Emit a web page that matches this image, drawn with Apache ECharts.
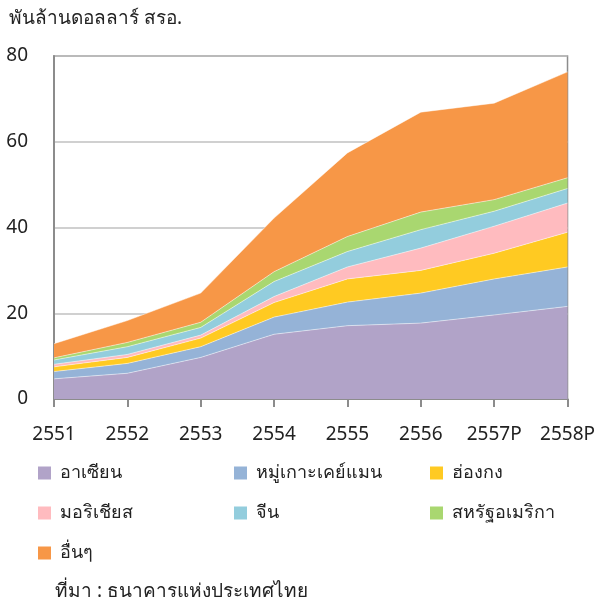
<!DOCTYPE html>
<html><head><meta charset="utf-8">
<script src="https://cdn.jsdelivr.net/npm/echarts@6/dist/echarts.min.js"></script>
<style>html,body{margin:0;padding:0;background:#fff}#c{width:598px;height:604px}</style>
</head><body><div id="c"></div>
<script>
const categories = ['2551','2552','2553','2554','2555','2556','2557P','2558P'];
const yTicks = [0,20,40,60,80];
const asean     = [4.7, 6.0, 9.7, 15.1, 17.1, 17.7, 19.6, 21.6];
const cayman    = [1.7, 2.3, 2.5, 4.0, 5.5, 7.0, 8.4, 9.2];
const hongkong  = [1.1, 1.4, 2.0, 3.4, 5.4, 5.3, 6.0, 8.1];
const mauritius = [0.6, 0.7, 0.7, 1.4, 2.8, 5.2, 6.3, 6.8];
const china     = [1.0, 1.8, 1.8, 3.5, 3.6, 4.3, 3.5, 3.4];
const usa       = [0.5, 1.0, 1.2, 2.3, 3.5, 4.1, 2.7, 2.5];
const others    = [3.3, 5.1, 6.8, 12.5, 19.5, 23.3, 22.5, 24.7];
const names = ['อาเซียน','หมู่เกาะเคย์แมน','ฮ่องกง','มอริเชียส','จีน','สหรัฐอเมริกา','อื่นๆ'];
const colors = ['#B1A3C8','#95B3D7','#FFCA22','#FFBBBF','#93CDDD','#A9D770','#F79747'];
const values = [asean, cayman, hongkong, mauritius, china, usa, others];

const FONT = "'Noto Sans', 'DejaVu Sans', sans-serif";
const chart = echarts.init(document.getElementById('c'));
const series = names.map((n,i)=>({
  name:n, type:'line', stack:'total', data:values[i], symbol:'none',
  lineStyle:{width:0.8,color:'rgba(255,255,255,0.6)'},
  areaStyle:{color:colors[i],opacity:1}, itemStyle:{color:colors[i]}
}));
const legendBase = {orient:'vertical', padding:0, itemWidth:13, itemHeight:13, itemGap:22, icon:'rect',
  textStyle:{fontSize:18, color:'#222', fontFamily:FONT, padding:[0,0,0,4]}, top:464};
chart.setOption({
  animation:false,
  title:{text:'พันล้านดอลลาร์ สรอ.', left:4, top:4, textStyle:{fontSize:19,fontWeight:'normal',color:'#222',fontFamily:FONT}},
  grid:{left:54, right:26, top:56, bottom:205, show:true, borderColor:'#8c8c8c', borderWidth:1.5},
  xAxis:{type:'category', data:categories, boundaryGap:false,
    axisLine:{lineStyle:{color:'#8c8c8c',width:2}},
    axisTick:{show:true, length:8, lineStyle:{color:'#8c8c8c',width:2}},
    axisLabel:{fontSize:19,color:'#222',margin:26,fontFamily:FONT, interval:0}},
  yAxis:{type:'value', min:yTicks[0], max:yTicks[yTicks.length-1], interval:20,
    axisLine:{show:true,lineStyle:{color:'#8c8c8c',width:2}}, axisTick:{show:false},
    splitLine:{lineStyle:{color:'#c0c0c0',width:1.5}},
    axisLabel:{fontSize:19,color:'#222',margin:26,fontFamily:FONT}},
  legend:[
    Object.assign({},legendBase,{left:38, data:[names[0],names[3],names[6]]}),
    Object.assign({},legendBase,{left:234, data:[names[1],names[4]]}),
    Object.assign({},legendBase,{left:430, data:[names[2],names[5]]})
  ],
  graphic:[{type:'text', left:55, top:582, style:{text:'ที่มา : ธนาคารแห่งประเทศไทย', fontSize:19, fill:'#222', fontFamily:FONT}}],
  series:series
});
</script></body></html>
